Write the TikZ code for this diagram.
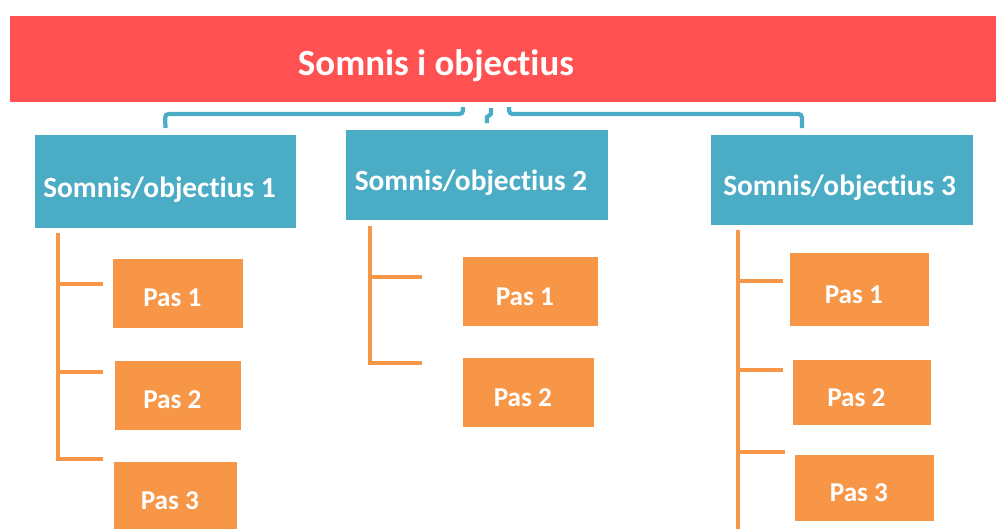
\documentclass[tikz,border=0pt]{standalone}
\usepackage{fontspec}
\setmainfont{Carlito}[Ligatures=NoCommon]
\usetikzlibrary{positioning, calc}

\definecolor{bannerred}{RGB}{255,81,81}
\definecolor{goalblue}{RGB}{75,172,198}
\definecolor{steporange}{RGB}{247,150,70}

\tikzset{
  title/.style={text=white, inner sep=0pt,
    font=\bfseries\fontsize{21}{24}\selectfont},
  goalbox/.style={fill=goalblue, text=white, inner sep=0pt,
    font=\bfseries\fontsize{16.7}{20}\selectfont,
    minimum width=5.24cm, minimum height=1.82cm, text height=0.62cm, text depth=0pt,
    execute at end node=\hspace*{#1}},
  goalbox/.default=6.8pt,
  stepbox/.style={fill=steporange, text=white, inner sep=0pt,
    font=\bfseries\fontsize{15.5}{18}\selectfont,
    minimum width=2.7cm, minimum height=1.38cm, text height=0.55cm, text depth=0pt,
    execute at end node=\hspace*{6.4pt}},
  goalline/.style={draw=goalblue, line width=2.4pt, rounded corners=2pt},
  stepline/.style={draw=steporange, line width=2.8pt}
}

\begin{document}
\begin{tikzpicture}[x=0.02cm, y=-0.02cm]
    \clip (0,0) rectangle (996,528);

    % Banner
    \fill[bannerred] (10,16) rectangle (996,102);
    \node[title] (top) at (436,66) {Somnis i objectius};

    % Dreams
    \node[goalbox, minimum height=1.86cm] (g1) at (165.5,181.5) {Somnis/objectius 1};
    \node[goalbox] (g2) at (477,175) {Somnis/objectius 2};
    \node[goalbox=2.8pt] (g3) at (842,180) {Somnis/objectius 3};

    % Bracket under the banner
    \coordinate (bl) at (g1.north |- 0,128);
    \coordinate (br) at (802,128);
    \draw[goalline] (bl) -- (165,114) -- (463,114) -- (463,107);
    \draw[goalline, rounded corners=0pt] (491,108) -- (491,114) -- (487,117) -- (487,123);
    \draw[goalline] (509,107) -- (509,114) -- (br |- 0,114) -- (br);

    % Steps, dream 1
    \node[stepbox, minimum width=2.6cm] (s11) at (178,293) {Pas 1};
    \node[stepbox, minimum width=2.52cm] (s12) at (178,395) {Pas 2};
    \node[stepbox, minimum width=2.46cm] (s13) at (175.5,496) {Pas 3};
    \coordinate (t1) at (58,233);
    \draw[stepline] (t1) -- (58,459) -- (103,459);
    \draw[stepline] (58,284) -- (103,284);
    \draw[stepline] (58,372) -- (103,372);

    % Steps, dream 2
    \node[stepbox] (s21) at (530.5,291.5) {Pas 1};
    \node[stepbox, minimum width=2.62cm] (s22) at (528.5,392.5) {Pas 2};
    \coordinate (t2) at (370,226);
    \draw[stepline] (t2) -- (370,363) -- (422,363);
    \draw[stepline] (370,277) -- (422,277);

    % Steps, dream 3
    \node[stepbox, minimum width=2.78cm, minimum height=1.46cm] (s31) at (859.5,289.5) {Pas 1};
    \node[stepbox, minimum width=2.76cm, minimum height=1.3cm] (s32) at (862,392.5) {Pas 2};
    \node[stepbox, minimum width=2.78cm, minimum height=1.32cm] (s33) at (864.5,488) {Pas 3};
    \coordinate (t3) at (738,230);
    \draw[stepline] (t3) -- (738,540);
    \draw[stepline] (738,281) -- (783,281);
    \draw[stepline] (738,370) -- (783,370);
    \draw[stepline] (738,452) -- (785,452);
\end{tikzpicture}
\end{document}
